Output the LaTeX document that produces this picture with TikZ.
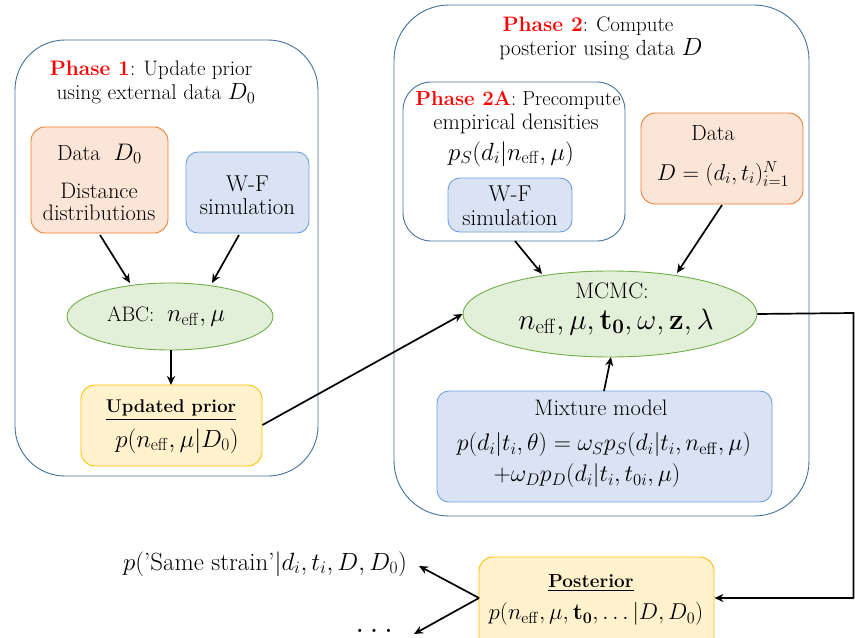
\RequirePackage{fix-cm}
\documentclass[tikz,border=0pt]{standalone}
\usepackage{amsmath}
\usetikzlibrary{shapes.geometric,arrows.meta}
\definecolor{frameblue}{HTML}{41719C}
\definecolor{datafill}{HTML}{FBE5D6}
\definecolor{dataline}{HTML}{ED7D31}
\definecolor{simfill}{HTML}{DAE3F3}
\definecolor{simline}{HTML}{6FA0DC}
\definecolor{fitfill}{HTML}{E2F0D9}
\definecolor{fitline}{HTML}{70AD47}
\definecolor{postfill}{HTML}{FFF2CC}
\definecolor{postline}{HTML}{FFC000}
\definecolor{phasered}{HTML}{FF0000}
\newcommand{\phasetag}[1]{\textcolor{phasered}{\textbf{#1}}}
\newcommand{\fsz}[1]{\fontsize{#1}{#1}\selectfont}
\begin{document}
\begin{tikzpicture}[x=1bp,y=-1bp,
  frame/.style={rectangle,draw=frameblue,line width=0.9bp,inner sep=0},
  databox/.style={rectangle,rounded corners=14bp,draw=dataline,fill=datafill,line width=0.9bp,inner sep=0},
  simbox/.style={rectangle,rounded corners=12bp,draw=simline,fill=simfill,line width=0.9bp,inner sep=0},
  resbox/.style={rectangle,rounded corners=14bp,draw=postline,fill=postfill,line width=0.9bp,inner sep=0},
  fitnode/.style={ellipse,draw=fitline,fill=fitfill,line width=0.9bp,inner sep=0},
  txt/.style={inner sep=0,align=center,font=\fsz{#1}},
  txt/.default=21,
  plain/.style={inner sep=0,font=\fsz{#1}},
  arr/.style={-{Stealth[length=9bp,width=8bp]},line width=1.7bp},
  link/.style={line width=1.7bp}]
\path[use as bounding box] (0,0) rectangle (855,638);

% ---- Phase 1 ----
\node[frame,rounded corners=50bp,minimum width=303bp,minimum height=436bp] (p1) at (166.5,258) {};
\node[txt] (p1a) at (151,70) {\phasetag{Phase 1}: Update prior};
\node[txt=21.5] (p1b) at (156,94) {using external data {\fsz{23.5}$D_0$}};

\node[databox,minimum width=137bp,minimum height=106bp] (d0) at (99.5,180) {};
\node[txt=22] (d0a) at (99.5,154) {Data~~{\fsz{24}$D_0$}};
\node[txt=22.5] (d0b) at (99,191) {Distance};
\node[txt=22.5] (d0c) at (99,213) {distributions};

\node[simbox,minimum width=123bp,minimum height=81bp] (wf1) at (247.5,192.5) {};
\node[txt=23] (wf1a) at (247.5,184) {W-F};
\node[txt=23] (wf1b) at (247.5,207) {simulation};

\node[fitnode,minimum width=206bp,minimum height=67bp] (abc) at (170,316.5) {};
\node[txt] (abct) at (166,317) {ABC:~~{\fsz{25}$n_{\mathrm{eff}},\mu$}};

\node[resbox,minimum width=181bp,minimum height=81bp] (up) at (171.5,425.5) {};
\node[txt=18.5] (upa) at (171,410) {\underline{\textbf{Updated prior}}};
\node[txt=25] (upb) at (177,441) {$p(n_{\mathrm{eff}},\mu|D_0)$};

% ---- Phase 2 ----
\node[frame,rounded corners=55bp,minimum width=415bp,minimum height=511bp] (p2) at (601.5,260.5) {};
\node[txt] (p2a) at (588,26) {\phasetag{Phase 2}: Compute};
\node[txt=22] (p2b) at (601,49) {posterior using data {\fsz{25}$D$}};

\node[frame,rounded corners=28bp,minimum width=222bp,minimum height=159bp] (p2x) at (514,161.5) {};
\node[txt=20.5] (p2xa) at (518,100) {\phasetag{Phase 2A}: Precompute};
\node[txt=22.5] (p2xb) at (516,124) {empirical densities};
\node[txt=25] (p2xc) at (511,154) {$p_S(d_i|n_{\mathrm{eff}},\mu)$};

\node[simbox,minimum width=124bp,minimum height=54bp] (wf2) at (510,205) {};
\node[txt=23] (wf2a) at (510,194) {W-F};
\node[txt=23] (wf2b) at (510,218) {simulation};

\node[databox,minimum width=162bp,minimum height=91bp] (dd) at (722,158.5) {};
\node[txt=22] (dda) at (713,133) {Data};
\node[txt=23] (ddb) at (723,174) {$D=(d_i,t_i)_{i=1}^N$};

\node[fitnode,minimum width=294bp,minimum height=86bp] (mcmc) at (610,314) {};
\node[txt=22.5] (mcmca) at (612,291) {MCMC:};
\node[txt=29.5] (mcmcb) at (616,322) {$n_{\mathrm{eff}},\mu,\mathbf{t}_{\mathbf{0}},\omega,\mathbf{z},\lambda$};

\node[simbox,minimum width=335bp,minimum height=111bp] (mix) at (604.5,446.5) {};
\node[txt=22.5] (mixa) at (601,408) {Mixture model};
\node[txt=24] (mixb) at (604,445) {$p(d_i|t_i,\theta)=\omega_S p_S(d_i|t_i,n_{\mathrm{eff}},\mu)$};
\node[txt=24] (mixc) at (587,476) {$+\omega_D p_D(d_i|t_i,t_{0i},\mu)$};

% ---- Posterior and what it feeds ----
\node[resbox,minimum width=235bp,minimum height=100bp] (post) at (596.5,607) {};
\node[txt=19] (posta) at (591,583) {\underline{\textbf{Posterior}}};
\node[txt=23] (postb) at (596,614) {$p(n_{\mathrm{eff}},\mu,\mathbf{t}_{\mathbf{0}},\dots|D,D_0)$};

\node[txt=25] (same) at (265,564) {$p(\text{'Same strain'}|d_i,t_i,D,D_0)$};
\node[plain=33,anchor=base] (dots) at (377,632) {$\dots$};
\coordinate (fork) at (479,598);
\coordinate (corner1) at (853.5,313);
\coordinate (corner2) at (853.5,598);

% ---- connectors ----
\draw[arr] (100,235) -- (130,283);
\draw[arr] (239,235) -- (212,283);
\draw[arr] (171,350) -- (171,385);
\draw[arr] (up.east |- 0,425) -- (mcmc.west);
\draw[arr] (515,241) -- (542,274);
\draw[arr] (722,205) -- (677,273);
\draw[arr] (604,391) -- (611,357);
\draw[link] (mcmc.east) -- (corner1) -- (corner2);
\draw[arr] (corner2) -- (fork -| post.east);
\draw[arr] (fork) -- (419,566);
\draw[arr] (fork) -- (414,634);
\end{tikzpicture}
\end{document}
